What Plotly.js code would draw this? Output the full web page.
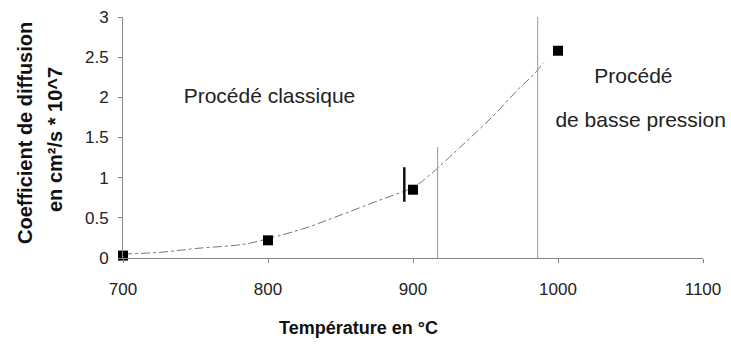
<!DOCTYPE html>
<html><head><meta charset="utf-8">
<script src="https://cdn.plot.ly/plotly-3.0.1.min.js"></script>
<style>body{margin:0;background:#fff}#c{width:731px;height:345px}</style>
</head><body><div id="c"></div>
<script>
// Measured points
const temps = [700, 800, 900, 1000];
const coeffs = [0.03, 0.22, 0.85, 2.58];
// Trend curve
const trendX = [700, 725, 751, 783, 800, 827, 845, 877, 900, 910, 932, 957, 972, 983, 990];
const trendY = [0.05, 0.07, 0.12, 0.17, 0.24, 0.38, 0.50, 0.72, 0.88, 1.01, 1.37, 1.80, 2.09, 2.28, 2.43];
// Separator lines
const sep1X = [917, 917], sep1Y = [0, 1.38];
const sep2X = [986, 986], sep2Y = [0, 3];
const markX = [894, 894], markY = [0.70, 1.13];
// Labels
const labelText = ["Procédé classique", "Procédé", "de basse pression"];
const labelX = [801, 1052, 1057];
const labelY = [2.0, 2.25, 1.69];
const xTicks = [700, 800, 900, 1000, 1100];
const yTicks = [0, 0.5, 1, 1.5, 2, 2.5, 3];
const xTitle = "Température en °C";
const yTitle1 = "Coefficient de diffusion";
const yTitle2 = "en cm²/s * 10^7";

const font = "Liberation Sans, Arial, sans-serif";
const W = 731, H = 345, L = 123, R = 28, T = 17, B = 87;
const pw = W - L - R, ph = H - T - B;
const px = v => (v - L) / pw;          // pixel -> paper x
const py = v => (H - B - v) / ph;      // pixel -> paper y

const traces = [
  {x: trendX, y: trendY, mode: "lines", line: {color: "#777", width: 1, dash: "dashdot", shape: "spline"}, hoverinfo: "skip"},
  {x: sep1X, y: sep1Y, mode: "lines", line: {color: "#999", width: 1}},
  {x: sep2X, y: sep2Y, mode: "lines", line: {color: "#999", width: 1}},
  {x: markX, y: markY, mode: "lines", line: {color: "#111", width: 2.5}},
  {x: temps, y: coeffs, mode: "markers", marker: {symbol: "square", size: 10, color: "#000"}, cliponaxis: false},
  {x: labelX, y: labelY, mode: "text", text: labelText, textposition: "middle center",
   textfont: {family: font, size: 21, color: "#222"}, cliponaxis: false}
];
const layout = {
  width: W, height: H,
  margin: {l: L, r: R, t: T, b: B},
  paper_bgcolor: "#fff", plot_bgcolor: "#fff",
  showlegend: false,
  font: {family: font, color: "#222"},
  xaxis: {range: [700, 1100], tickvals: xTicks, showgrid: false, zeroline: false,
    showline: true, linecolor: "#888", linewidth: 1, ticks: "outside", ticklen: 4, tickcolor: "#888",
    ticklabelstandoff: 12,
    tickfont: {size: 17, family: font, color: "#222"}},
  yaxis: {range: [0, 3], tickvals: yTicks, showgrid: false, zeroline: false,
    showline: true, linecolor: "#888", linewidth: 1, ticks: "outside", ticklen: 4, tickcolor: "#888",
    ticklabelstandoff: 6,
    tickfont: {size: 17, family: font, color: "#222"}},
  annotations: [
    {text: xTitle, xref: "paper", yref: "paper", x: px(358), y: py(328), showarrow: false,
     xanchor: "center", yanchor: "middle", font: {size: 18, family: font, color: "#111", weight: "bold"}},
    {text: yTitle1, xref: "paper", yref: "paper", x: px(25), y: py(133), showarrow: false, textangle: -90,
     xanchor: "center", yanchor: "middle", font: {size: 20, family: font, color: "#111", weight: "bold"}},
    {text: yTitle2, xref: "paper", yref: "paper", x: px(55), y: py(140), showarrow: false, textangle: -90,
     xanchor: "center", yanchor: "middle", font: {size: 20, family: font, color: "#111", weight: "bold"}}
  ]
};
Plotly.newPlot("c", traces, layout, {displayModeBar: false, staticPlot: true});
</script></body></html>
